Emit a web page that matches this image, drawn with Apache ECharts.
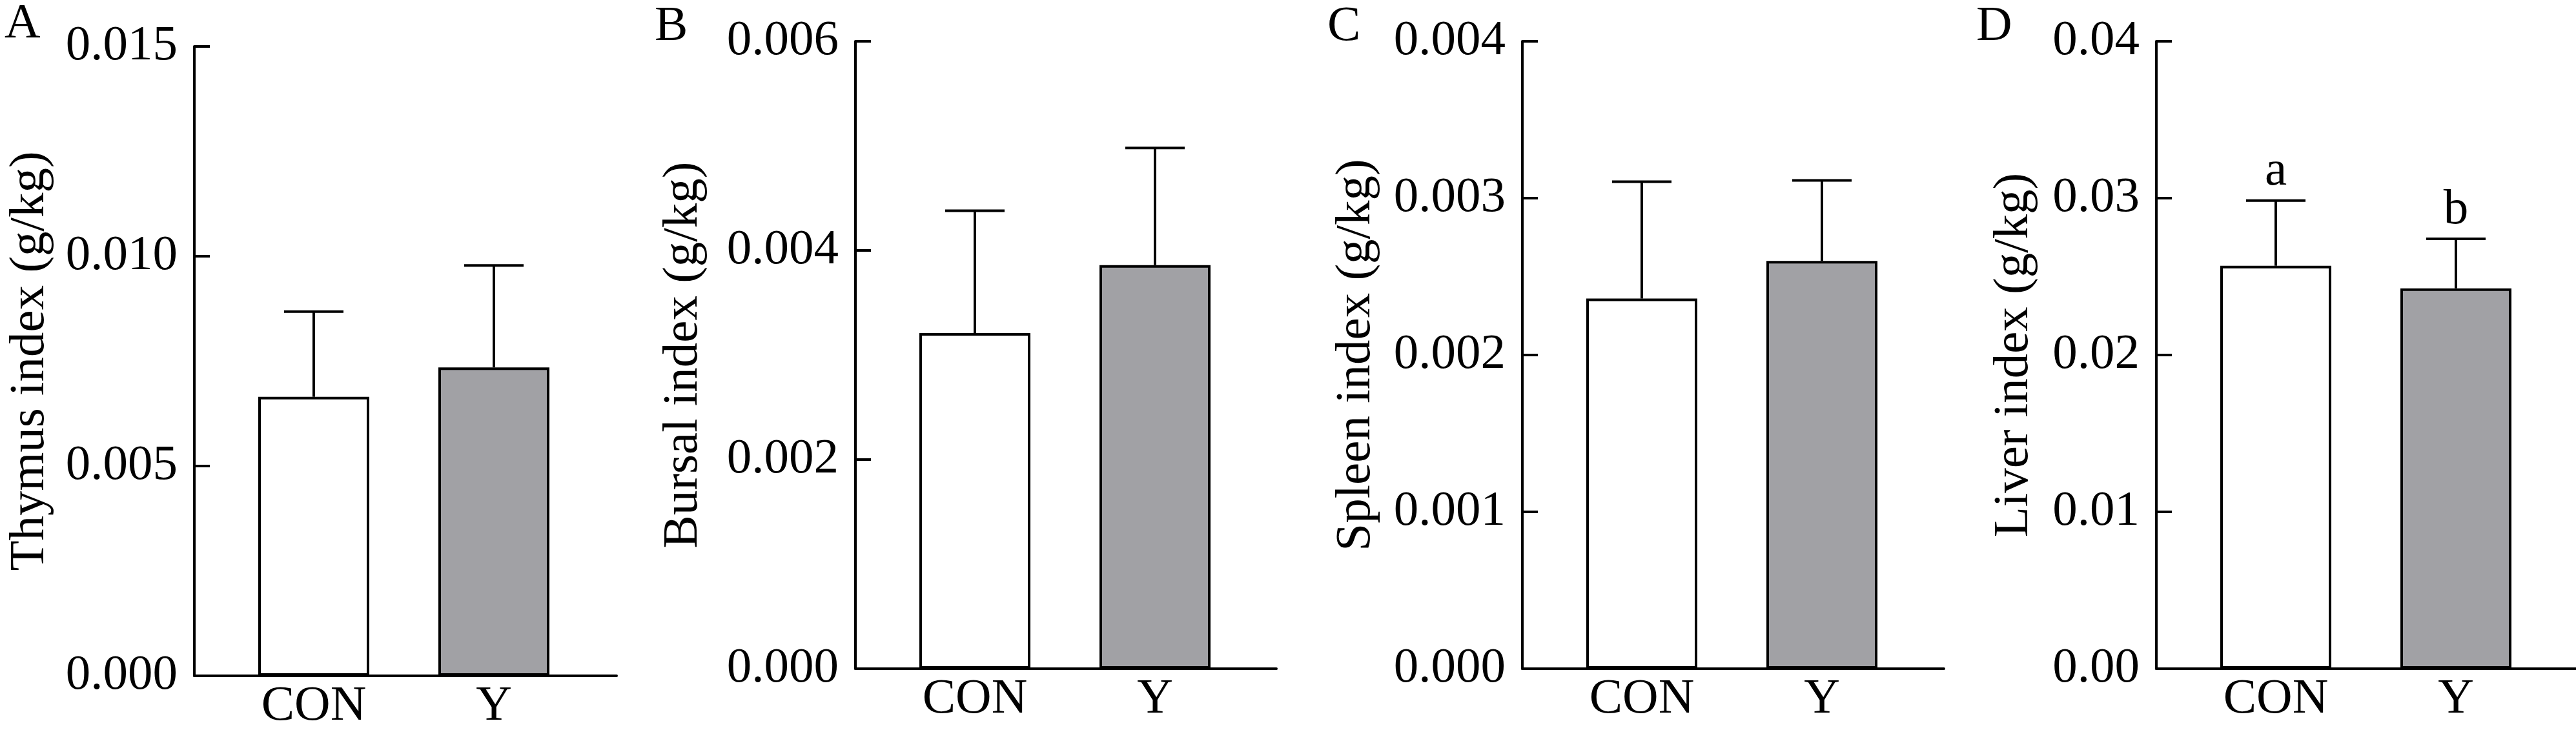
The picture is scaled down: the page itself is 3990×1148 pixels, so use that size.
<!DOCTYPE html>
<html>
<head>
<meta charset="utf-8">
<script src="https://cdn.jsdelivr.net/npm/echarts@6/dist/echarts.min.js"></script>
<style>
  html, body { margin: 0; padding: 0; background: #fff; }
  #chart { width: 3990px; height: 1148px; }
</style>
</head>
<body>
<div id="chart"></div>
<script>
// data
const groups = ['CON', 'Y'];
const panelLetters = ['A', 'B', 'C', 'D'];
const axisNames = ['Thymus index (g/kg)', 'Bursal index (g/kg)', 'Spleen index (g/kg)', 'Liver index (g/kg)'];

const thymusMean = [0.00665, 0.00735];
const thymusSd = [0.00203, 0.00243];
const bursalMean = [0.00321, 0.00386];
const bursalSd = [0.00117, 0.00112];
const spleenMean = [0.00236, 0.00260];
const spleenSd = [0.000745, 0.000513];
const liverMean = [0.02569, 0.02425];
const liverSd = [0.00416, 0.00316];
const liverLetters = ['a', 'b'];

const yMax = [0.015, 0.006, 0.004, 0.04];
const yStep = [0.005, 0.002, 0.001, 0.01];
const yDecimals = [3, 3, 3, 2];

const means = [thymusMean, bursalMean, spleenMean, liverMean];
const sds = [thymusSd, bursalSd, spleenSd, liverSd];
const letters = [null, null, null, liverLetters];

// layout (px)
const layout = [
    { left: 301, top: 72, width: 654, height: 975, nameGap: 216, lx: 34, ly: 38 },
    { left: 1325, top: 64, width: 652, height: 972, nameGap: 228, lx: 1041, ly: 42 },
    { left: 2358, top: 64, width: 653, height: 972, nameGap: 219, lx: 2083, ly: 42 },
    { left: 3340, top: 64, width: 650, height: 972, nameGap: 182, lx: 3088, ly: 42 }
];

const FONT = '"Liberation Serif", "Times New Roman", serif';
const FS = 77;
const barColors = ['#ffffff', '#a1a1a5'];
const pxPerUnit = 279;
const firstOffset = 185;

const chart = echarts.init(document.getElementById('chart'));

const grids = [], xAxes = [], yAxes = [], series = [], graphics = [];

layout.forEach((L, i) => {
    grids.push({ left: L.left, top: L.top, width: L.width, height: L.height });

    const xMin = 1 - firstOffset / pxPerUnit;
    xAxes.push({
        type: 'value',
        gridIndex: i,
        min: xMin,
        max: xMin + L.width / pxPerUnit,
        axisLine: { show: true, onZero: false, lineStyle: { color: '#000', width: 4 } },
        axisTick: { show: false },
        splitLine: { show: false },
        axisLabel: {
            customValues: [1, 2],
            formatter: (v) => groups[Math.round(v) - 1] || '',
            color: '#000',
            fontFamily: FONT,
            fontSize: FS,
            margin: 9
        }
    });

    yAxes.push({
        type: 'value',
        gridIndex: i,
        min: 0,
        max: yMax[i],
        interval: yStep[i],
        name: axisNames[i],
        nameLocation: 'middle',
        nameGap: L.nameGap,
        nameTextStyle: { color: '#000', fontFamily: FONT, fontSize: FS },
        axisLine: { show: true, lineStyle: { color: '#000', width: 4 } },
        axisTick: { show: true, inside: true, length: 24, lineStyle: { color: '#000', width: 4 } },
        splitLine: { show: false },
        axisLabel: {
            formatter: (v) => v.toFixed(yDecimals[i]),
            color: '#000',
            fontFamily: FONT,
            fontSize: FS,
            margin: 26
        }
    });

    series.push({
        type: 'bar',
        xAxisIndex: i,
        yAxisIndex: i,
        barWidth: 172,
        data: means[i].map((m, j) => ({
            value: [j + 1, m],
            itemStyle: { color: barColors[j], borderColor: '#000', borderWidth: 4 }
        }))
    });

    series.push({
        type: 'custom',
        xAxisIndex: i,
        yAxisIndex: i,
        clip: false,
        z: 1,
        data: means[i].map((m, j) => [j + 1, m, sds[i][j]]),
        renderItem: (params, api) => {
            const x = api.value(0);
            const m = api.value(1);
            const s = api.value(2);
            const p0 = api.coord([x, m]);
            const p1 = api.coord([x, m + s]);
            const capHalf = 46;
            const children = [
                { type: 'line', shape: { x1: p0[0], y1: p0[1], x2: p1[0], y2: p1[1] }, style: { stroke: '#000', lineWidth: 4 } },
                { type: 'line', shape: { x1: p1[0] - capHalf, y1: p1[1], x2: p1[0] + capHalf, y2: p1[1] }, style: { stroke: '#000', lineWidth: 4 } }
            ];
            const lt = letters[i];
            if (lt) {
                children.push({
                    type: 'text',
                    x: p1[0],
                    y: p1[1] - 6,
                    style: { text: lt[params.dataIndex], fill: '#000', font: FS + 'px ' + FONT, align: 'center', verticalAlign: 'bottom' }
                });
            }
            return { type: 'group', children };
        }
    });

    graphics.push({
        type: 'text',
        left: L.lx - 27,
        top: L.ly - 39,
        style: { text: panelLetters[i], fill: '#000', font: FS + 'px ' + FONT }
    });
});

chart.setOption({
    animation: false,
    backgroundColor: '#fff',
    grid: grids,
    xAxis: xAxes,
    yAxis: yAxes,
    series: series,
    graphic: graphics
});
</script>
</body>
</html>
